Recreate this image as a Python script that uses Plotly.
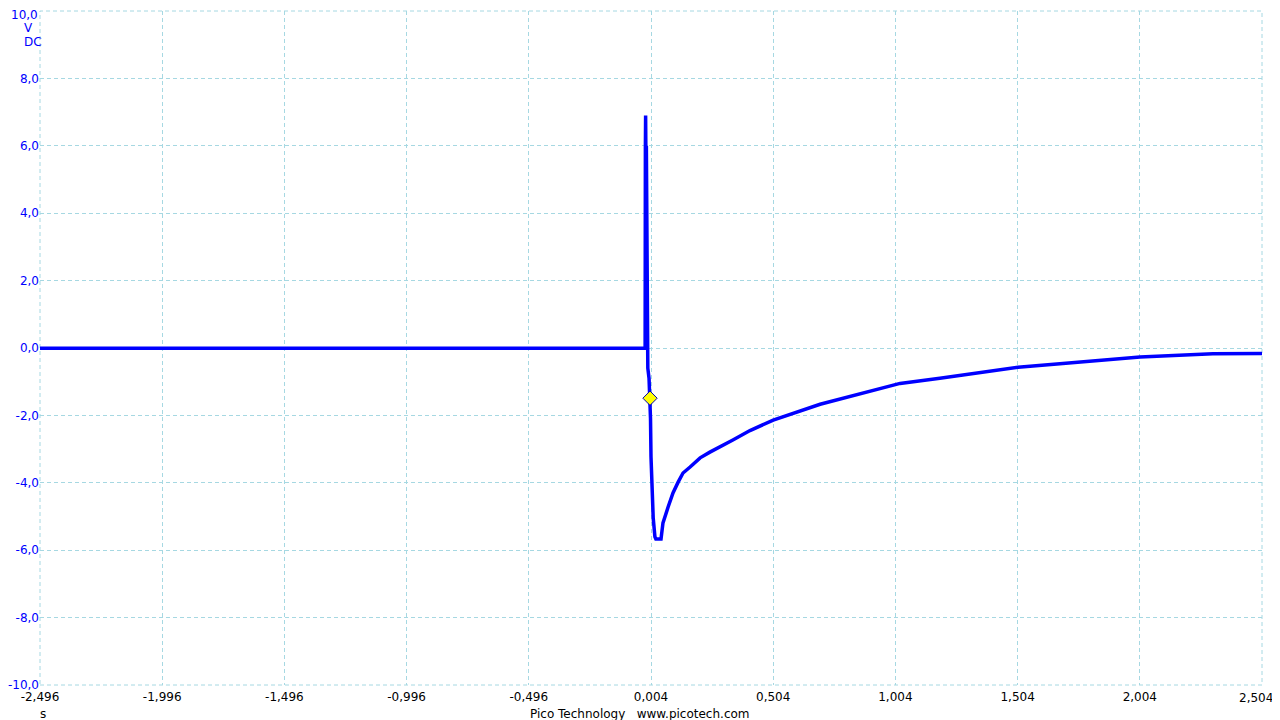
import plotly.graph_objects as go

# ---- data ----
time_s = [-2.496, -0.020, -0.019, -0.018, -0.017, -0.015, -0.014, -0.012, -0.011, -0.009,
          -0.004, 0.000, 0.002, 0.004, 0.008, 0.013, 0.020, 0.024, 0.045, 0.053,
          0.074, 0.094, 0.115, 0.135, 0.164, 0.205, 0.245, 0.286, 0.339, 0.409,
          0.504, 0.696, 0.887, 1.023, 1.186, 1.350, 1.506, 1.677, 1.841, 2.005,
          2.303, 2.504]
volts = [-0.01, -0.01, 5.9, 6.9, 5.8, 6.0, 3.9, 1.3, 1.5, -0.6,
         -0.9, -1.49, -2.1, -3.23, -4.0, -5.04, -5.6, -5.67, -5.67, -5.19,
         -4.72, -4.30, -3.98, -3.71, -3.53, -3.26, -3.09, -2.94, -2.73, -2.45,
         -2.14, -1.67, -1.31, -1.05, -0.90, -0.73, -0.57, -0.47, -0.37, -0.27,
         -0.17, -0.16]

trigger_t = [0.0]
trigger_v = [-1.49]

x_ticks = [-2.496, -1.996, -1.496, -0.996, -0.496, 0.004, 0.504, 1.004, 1.504, 2.004, 2.504]
x_labels = ["-2,496", "-1,996", "-1,496", "-0,996", "-0,496", "0,004", "0,504", "1,004", "1,504", "2,004", "2,504"]
y_ticks = [-10, -8, -6, -4, -2, 0, 2, 4, 6, 8, 10]
y_labels = ["-10,0", "-8,0", "-6,0", "-4,0", "-2,0", "0,0", "2,0", "4,0", "6,0", "8,0", "10,0"]

BLUE = "#0000ff"
GRID = "#a6d8e2"
FONT = "DejaVu Sans"
DASH = "4px,3px"

# edge labels would be clipped by the page edge, so they are drawn as annotations
x_text = x_labels[:-1] + [""]
y_text = y_labels[:-1] + [""]

fig = go.Figure()
fig.add_trace(go.Scatter(x=time_s, y=volts, mode="lines",
                         line=dict(color=BLUE, width=3.5), showlegend=False,
                         hoverinfo="skip"))
fig.add_trace(go.Scatter(x=trigger_t, y=trigger_v, mode="markers",
                         marker=dict(symbol="diamond", size=11, color="#ffff00",
                                     line=dict(color="#0000aa", width=1)),
                         showlegend=False, hoverinfo="skip"))

# the page body adds an 8px offset, so margins are shifted to compensate
fig.update_layout(
    width=1280, height=720,
    margin=dict(l=32, r=26, t=3, b=43, autoexpand=False),
    paper_bgcolor="white", plot_bgcolor="white",
    font=dict(family=FONT, size=12, color="black"),
    xaxis=dict(range=[-2.496, 2.504], tickvals=x_ticks, ticktext=x_text,
               showgrid=True, gridcolor=GRID, gridwidth=1, griddash=DASH,
               zeroline=False, showline=False, ticks="", automargin=False,
               ticklabelstandoff=3,
               tickfont=dict(family=FONT, size=12, color="black")),
    yaxis=dict(range=[-10, 10], tickvals=y_ticks, ticktext=y_text,
               showgrid=True, gridcolor=GRID, gridwidth=1, griddash=DASH,
               zeroline=False, showline=False, ticks="", automargin=False,
               ticklabelstandoff=0,
               tickfont=dict(family=FONT, size=12, color=BLUE)),
    shapes=[dict(type="rect", xref="paper", yref="paper", x0=0, x1=1, y0=0, y1=1,
                 line=dict(color=GRID, width=1, dash=DASH), layer="below")],
    annotations=[
        dict(text=y_labels[-1], xref="paper", yref="y", x=0, y=y_ticks[-1],
             yshift=-4, showarrow=False,
             font=dict(family=FONT, size=12, color=BLUE),
             xanchor="right", yanchor="middle"),
        dict(text=x_labels[-1], xref="x", yref="paper", x=x_ticks[-1], y=-0.0193,
             xshift=13, showarrow=False,
             font=dict(family=FONT, size=12, color="black"),
             xanchor="right", yanchor="middle"),
        dict(text="V", xref="paper", yref="paper", x=-0.0098, y=0.9755,
             showarrow=False, font=dict(family=FONT, size=12, color=BLUE),
             xanchor="center", yanchor="middle"),
        dict(text="DC", xref="paper", yref="paper", x=-0.0057, y=0.9545,
             showarrow=False, font=dict(family=FONT, size=12, color=BLUE),
             xanchor="center", yanchor="middle"),
        dict(text="s", xref="paper", yref="paper", x=0.0025, y=-0.043,
             showarrow=False, font=dict(family=FONT, size=12, color="black"),
             xanchor="center", yanchor="middle"),
        dict(text="Pico Technology   www.picotech.com", xref="paper", yref="paper",
             x=0.491, y=-0.043, showarrow=False,
             font=dict(family=FONT, size=12, color="black"),
             xanchor="center", yanchor="middle"),
    ],
)

fig.write_html("out.html")
